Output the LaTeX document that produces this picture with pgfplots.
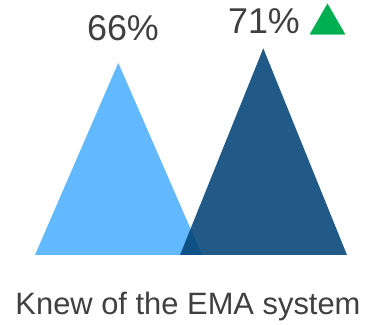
\documentclass[border=0pt]{standalone}
\usepackage{pgfplots}
\pgfplotsset{compat=1.18}
\usepackage{fontspec}
\setmainfont{Liberation Sans}
\definecolor{lb}{RGB}{99,185,255}
\definecolor{db}{RGB}{1,66,117}
\definecolor{tg}{RGB}{64,64,64}
\definecolor{gr}{RGB}{0,176,80}
\begin{document}
\begin{tikzpicture}
\begin{axis}[
  at={(0,0)}, anchor=south west,
  width=370bp, height=325bp, scale only axis,
  xmin=0, xmax=370, ymin=-24.05, ymax=87.6,
  hide axis, clip=false,
]
\addplot[fill=lb, draw=none] coordinates {(35,0) (118.3,66) (202,0)} -- cycle;
\addplot[fill=db, fill opacity=0.87, draw=none] coordinates {(180,0) (263.3,71) (347,0)} -- cycle;
\addplot[only marks, mark=triangle*, mark size=20.2bp, color=gr] coordinates {(327.5,79.3)};
\node[anchor=base, text=tg, font=\fontsize{36}{40}\selectfont] at (axis cs:123,73.6) {66\%};
\node[anchor=base, text=tg, font=\fontsize{36}{40}\selectfont] at (axis cs:264,76.2) {71\%};
\node[anchor=base, text=tg, font=\fontsize{31}{36}\selectfont] at (axis cs:188,-20.6) {Knew of the EMA system};
\end{axis}
\pgfresetboundingbox
\path[use as bounding box] (0,0) rectangle (370bp,325bp);
\end{tikzpicture}
\end{document}
